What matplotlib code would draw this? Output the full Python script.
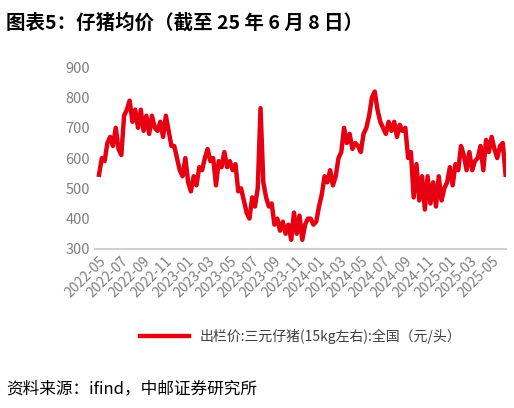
import matplotlib
matplotlib.use('Agg')
import matplotlib.pyplot as plt
import pandas as pd

plt.rcParams['font.family'] = ['Noto Sans CJK SC', 'DejaVu Sans']

vals = [545,600,590, 650,670,640, 700,630,610,740, 760,790,720,760, 700,760,690,740,
        680,740,700,690, 720,670,740,690, 640,640,600, 560,540,600,520, 490,540,510,570,
        560,600,630,590, 600,510,590,570, 620,570,590,560, 580,490,500,460, 420,400,470,440,
        500,765,520,470, 440,450,380,400, 360,390,350,380, 330,420,350,410, 330,380,400,400,
        380,390,440,480, 540,520,560,510, 540,600,620,700, 650,680,630,650, 640,620,680,700,
        740,800,820,760, 720,700,680,720, 690,720,670,710, 690,700,600,620, 470,580,460,540,
        430,540,450,520, 440,540,460,500, 520,570,510,580, 560,640,610,560, 620,560,590,600,
        640,560,660,620, 670,630,600,640, 650,545]
dates = pd.date_range('2022-05-01', '2025-06-08', periods=len(vals))
tick_labels = pd.date_range('2022-05-01', '2025-05-01', freq='2MS')

fig = plt.figure(figsize=(5.14, 4.08), dpi=100)
fig.text(0.012, 0.945, '图表5：仔猪均价（截至 25 年 6 月 8 日）', fontsize=14, fontweight='bold', va='center')
fig.text(0.012, 0.048, '资料来源：ifind，中邮证券研究所', fontsize=12, va='center')

ax = fig.add_axes([0.185, 0.39, 0.80, 0.445])
ax.plot(dates, vals, color='#e60012', lw=3.2, label='出栏价:三元仔猪(15kg左右):全国（元/头）')
ax.set_ylim(300, 900)
ax.set_yticks(range(300, 901, 100))
ax.set_xlim(pd.Timestamp('2022-04-20'), pd.Timestamp('2025-06-10'))
ax.set_xticks(tick_labels)
ax.set_xticklabels([d.strftime('%Y-%m') for d in tick_labels], rotation=45, ha='right', rotation_mode='anchor')
for s in ['top', 'right', 'left']:
    ax.spines[s].set_visible(False)
ax.spines['bottom'].set_color('#d0d0d0')
ax.spines['bottom'].set_linewidth(1.5)
ax.tick_params(axis='y', length=0, labelcolor='#7f7f7f', labelsize=10.5)
ax.tick_params(axis='x', length=0, labelcolor='#7f7f7f', labelsize=10)
ax.legend(loc='upper center', bbox_to_anchor=(0.5, -0.37), frameon=False, fontsize=10, handlelength=3.5,
          labelcolor='#404040')
fig.savefig('out.png', dpi=100)
